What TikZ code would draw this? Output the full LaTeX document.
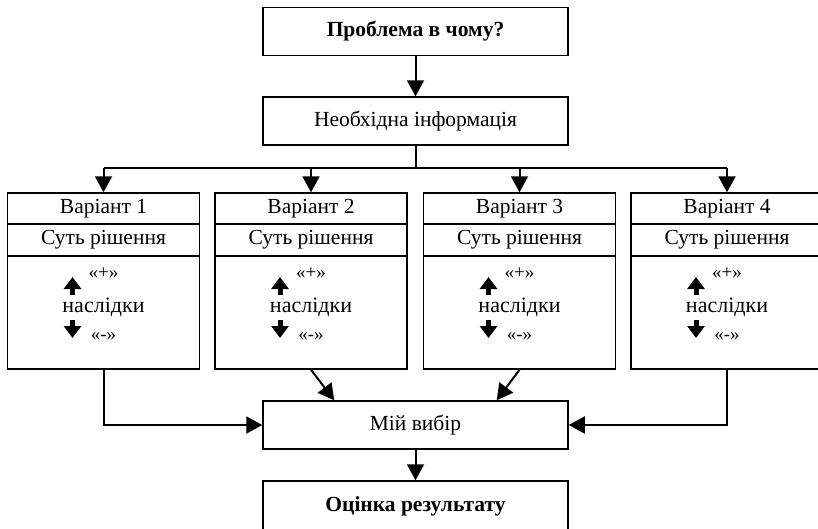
\documentclass[tikz,border=0pt]{standalone}
\usepackage{fontspec}
\setmainfont{Liberation Serif}
\usetikzlibrary{arrows.meta}
\tikzset{
  box/.style={draw, rectangle, line width=1.5pt, minimum width=305pt, minimum height=48pt, font=\fontsize{21.5}{25}\selectfont},
  boldbox/.style={font=\fontsize{21.5}{25}\selectfont\bfseries},
  varbox/.style={draw, rectangle, line width=1.5pt, minimum width=192pt, font=\fontsize{21.5}{25}\selectfont},
  plain/.style={font=\fontsize{22}{25}\selectfont},
  small/.style={font=\fontsize{19}{21}\selectfont},
  flow/.style={line width=2pt, -{Triangle[width=17pt,length=16pt]}},
  signarrow/.style={line width=5pt, -{Triangle[width=17pt,length=12pt]}}
}
\begin{document}
\begin{tikzpicture}[x=1pt, y=-1pt]
\useasboundingbox (0,0) rectangle (818,528);
\node[box, boldbox] (problem) at (415.5, 31.5) {Проблема в чому?};
\node[box] (info) at (415.5, 121) {Необхідна інформація};
\coordinate (hub) at (415.5, 168); % Branching point under the info box.
\foreach \i/\cx in {1/103.5, 2/311, 3/519.5, 4/727} {
  \node[varbox, minimum height=31pt] (var\i) at (\cx, 208.5) {Варіант \i};
  \node[varbox, minimum height=32pt] (sut\i) at (\cx, 240) {Суть рішення};
  \node[varbox, minimum height=113pt] (nasl\i) at (\cx, 312.5) {};
  \node[small] (plus\i) at (\cx, 273) {«+»};
  \node[plain] (naslidky\i) at (\cx, 307) {наслідки};
  \node[small] (minus\i) at (\cx, 337) {«-»};
  \draw[signarrow] (\cx-31, 295) -- (\cx-31, 277); % Up arrow.
  \draw[signarrow] (\cx-31, 320) -- (\cx-31, 338); % Down arrow.
  \draw[flow] (var\i.north |- hub) -- (var\i.north);
}
\node[box] (choice) at (415.5, 425) {Мій вибір};
\node[box, boldbox, minimum height=50pt] (result) at (415.5, 506) {Оцінка результату};
\draw[flow] (problem) -- (info);
\draw[line width=2pt] (info.south) -- (hub) (var1.north |- hub) -- (var4.north |- hub);
\draw[flow] (nasl1.south) |- (choice.west);
\draw[flow] (nasl4.south) |- (choice.east);
\draw[flow] (nasl2.south) -- ([xshift=72pt]choice.north west);
\draw[flow] (nasl3.south) -- ([xshift=-72pt]choice.north east);
\draw[flow] (choice) -- (result);
\end{tikzpicture}
\end{document}
